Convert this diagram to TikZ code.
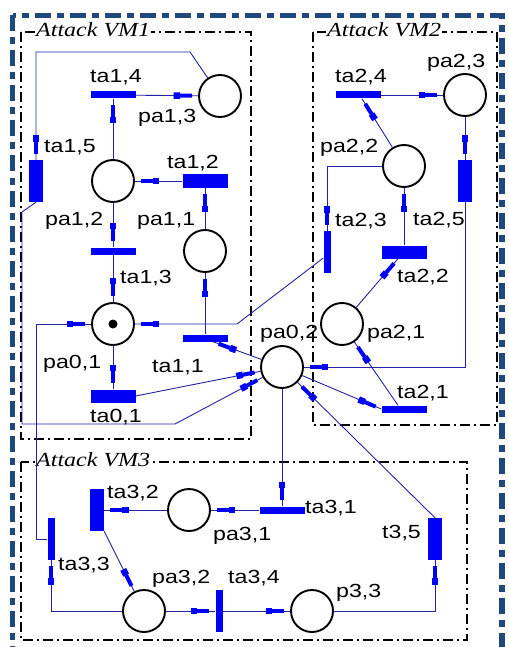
\documentclass[tikz,border=0pt]{standalone}
\usepackage{fontspec}
\setmainfont{Liberation Sans}[FakeStretch=1.22]
\newfontfamily\vmfont{Liberation Serif}[FakeStretch=1.2]
\usepackage{tikz}
\usetikzlibrary{positioning,decorations.markings}
\definecolor{navyframe}{RGB}{31,73,125}
\definecolor{arcblue}{RGB}{35,35,165}
\definecolor{barblue}{RGB}{0,0,245}

\begin{document}
\begin{tikzpicture}[x=1pt,y=-1pt,
  place/.style={circle,draw=black,line width=1.9pt,minimum size=42pt,inner sep=0pt},
  trans/.style={rectangle,fill=barblue,inner sep=0pt},
  hbar/.style={trans,minimum width=45pt,minimum height=7pt},
  hbarw/.style={trans,minimum width=45pt,minimum height=13pt},
  vbar/.style={trans,minimum width=7pt,minimum height=42pt},
  vbarw/.style={trans,minimum width=14pt,minimum height=42pt},
  arc/.style={draw=arcblue,line width=0.9pt,postaction={decorate},
    decoration={markings,mark=at position -6pt with {
      \fill[barblue] (-18.5pt,-3.25pt) rectangle (-12pt,3.25pt);
      \fill[barblue] (-12pt,-2pt) rectangle (0pt,2pt);}}},
  lbl/.style={anchor=base west,inner sep=0pt,font=\fontsize{19}{19}\selectfont},
  vmbox/.style={draw=black,line width=1.2pt,dash pattern=on 10pt off 4pt on 2pt off 4pt},
  vmlbl/.style={anchor=west,fill=white,inner sep=1pt,font=\vmfont\itshape\fontsize{20}{20}\selectfont}]
  \useasboundingbox (0,0) rectangle (508,647);
  % outer frame
  \begin{scope}
    \clip (0,0) rectangle (508,647);
    \draw[navyframe,line width=5.5pt,dash pattern=on 16pt off 6pt on 7pt off 6pt]
      (12.5,15.5) rectangle (502,700);
  \end{scope}

  % attack areas
  \draw[vmbox] (21,32) rectangle (251,439);
  \draw[vmbox] (313,32) rectangle (497,425);
  \draw[vmbox] (21,462) rectangle (467,640);
  \node[vmlbl] (vm1) at (35,30) {Attack VM1};
  \node[vmlbl] (vm2) at (326,30) {Attack VM2};
  \node[vmlbl] (vm3) at (35,460) {Attack VM3};

  % places
  \node[place] (pa13) at (220,96) {};
  \node[place] (pa12) at (113,181) {};
  \node[place] (pa11) at (205,251) {};
  \node[place] (pa01) at (113,324) {};
  \fill (pa01) circle (4.5pt);
  \node[place] (pa02) at (282,367) {};
  \node[place] (pa21) at (342,324) {};
  \node[place] (pa22) at (404,166) {};
  \node[place] (pa23) at (465,95) {};
  \node[place] (pa31) at (189,510) {};
  \node[place] (pa32) at (144,611) {};
  \node[place] (p33) at (312,611) {};

  % transitions
  \node[hbar] (ta14) at (113,95) {};
  \node[vbarw] (ta15) at (36,181) {};
  \node[hbarw] (ta12) at (205,181) {};
  \node[hbar] (ta13) at (113,251) {};
  \node[hbar] (ta11) at (205,338) {};
  \node[hbarw] (ta01) at (113,396) {};
  \node[hbar] (ta24) at (358,95) {};
  \node[vbarw] (ta25) at (465,181) {};
  \node[vbar] (ta23) at (327,252) {};
  \node[hbarw] (ta22) at (404,252) {};
  \node[hbar] (ta21) at (404,409) {};
  \node[vbarw] (ta32) at (97,510) {};
  \node[vbar] (ta33) at (51,539) {};
  \node[vbar] (ta34) at (219,611) {};
  \node[hbar] (ta31) at (282,510) {};
  \node[vbarw] (t35) at (435,539) {};

  % bends
  \coordinate (c1) at (190,52);
  \coordinate (c2) at (22,212);
  \coordinate (c3) at (22,424);
  \coordinate (c4) at (175,424);
  \coordinate (c5) at (237,324);
  \coordinate (c7) at (36,324);

  % arcs VM1
  \draw[arc] (pa12) -- (ta14);
  \draw[arc] (ta14) -- (pa13);
  \draw[arc] (pa13) -- (c1) -| (ta15);
  \draw[arc] (ta15.south) -- (c2) -- (c3) -- (c4) -- (pa02);
  \draw[arc] (ta12) -- (pa12);
  \draw[arc] (pa11) -- (ta12);
  \draw[arc] (ta11) -- (pa11);
  \draw[arc] (pa12) -- (ta13);
  \draw[arc] (ta13) -- (pa01);
  \draw[arc] (pa01) -- (ta01);
  \draw[arc] (ta01.east) -- (pa02);
  \draw[arc] (pa02) -- ([xshift=8pt]ta11.south);
  \draw[arc] ([yshift=-6pt]ta23.west) -- (c5) -- (pa01);
  \draw[arc] (ta33.west) -| (c7) -- (pa01);
  % arcs VM2
  \draw[arc] (ta24) -- (pa23);
  \draw[arc] (pa22) -- ([xshift=4pt]ta24.south);
  \draw[arc] (pa23) -- (ta25);
  \draw[arc] (ta25) |- (pa02);
  \draw[arc] (ta22) -- (pa22);
  \draw[arc] (pa22) -| (ta23);
  \draw[arc] (pa21) -- ([xshift=-6pt]ta22.south);
  \draw[arc] ([xshift=-6pt]ta21.north) -- (pa21);
  \draw[arc] (pa02) -- (ta21.west);
  % arcs VM3
  \draw[arc] (pa02) -- (ta31);
  \draw[arc] (ta31) -- (pa31);
  \draw[arc] (pa31) -- (ta32);
  \draw[arc] (ta32.south east) -- (pa32);
  \draw[arc] (pa32) -| (ta33);
  \draw[arc] (pa32) -- (ta34);
  \draw[arc] (ta34) -- (p33);
  \draw[arc] (p33) -| (t35);
  \draw[arc] (t35.north) -- (pa02);

  % labels
  \node[lbl] (l-ta14) at (90,83) {ta1,4};
  \node[lbl] (l-pa13) at (138,123) {pa1,3};
  \node[lbl] (l-ta15) at (44,153) {ta1,5};
  \node[lbl] (l-ta12) at (167,168) {ta1,2};
  \node[lbl] (l-pa12) at (45,225) {pa1,2};
  \node[lbl] (l-pa11) at (137,225) {pa1,1};
  \node[lbl] (l-ta13) at (120,283) {ta1,3};
  \node[lbl] (l-pa01) at (43,368) {pa0,1};
  \node[lbl] (l-ta11) at (152,372) {ta1,1};
  \node[lbl] (l-ta01) at (90,422) {ta0,1};
  \node[lbl] (l-pa02) at (260,338) {pa0,2};
  \node[lbl] (l-ta24) at (335,83) {ta2,4};
  \node[lbl] (l-pa23) at (427,68) {pa2,3};
  \node[lbl] (l-pa22) at (320,153) {pa2,2};
  \node[lbl] (l-ta23) at (335,226) {ta2,3};
  \node[lbl] (l-ta25) at (413,225) {ta2,5};
  \node[lbl] (l-ta22) at (397,282) {ta2,2};
  \node[lbl] (l-pa21) at (367,338) {pa2,1};
  \node[lbl] (l-ta21) at (397,398) {ta2,1};
  \node[lbl] (l-ta32) at (107,498) {ta3,2};
  \node[lbl] (l-pa31) at (213,540) {pa3,1};
  \node[lbl] (l-ta31) at (305,513) {ta3,1};
  \node[lbl] (l-ta33) at (58,570) {ta3,3};
  \node[lbl] (l-pa32) at (152,583) {pa3,2};
  \node[lbl] (l-ta34) at (228,583) {ta3,4};
  \node[lbl] (l-t35) at (382,538) {t3,5};
  \node[lbl] (l-p33) at (336,597) {p3,3};
\end{tikzpicture}
\end{document}
